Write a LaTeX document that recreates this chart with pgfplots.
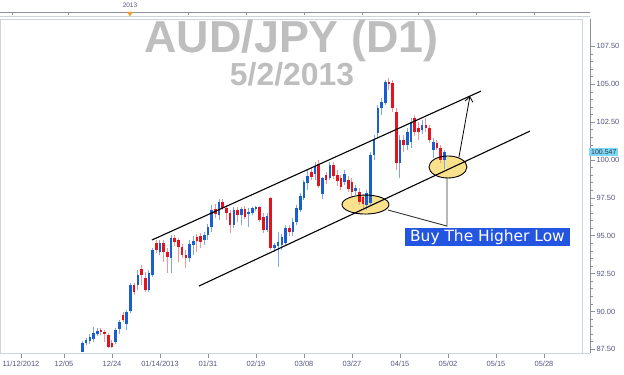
\documentclass[border=0pt]{standalone}
\usepackage{pgfplots}
\pgfplotsset{compat=1.18}
\usepackage{pgfplotstable}
\usepackage{fontspec}
\setmainfont{Liberation Sans}
\newfontfamily\dejavu{DejaVu Sans}
\usetikzlibrary{arrows.meta}

\definecolor{upbody}{RGB}{25,95,210}
\definecolor{upwick}{RGB}{120,170,235}
\definecolor{dnbody}{RGB}{228,20,30}
\definecolor{dnwick}{RGB}{240,150,150}
\definecolor{ticklab}{RGB}{85,85,130}
\definecolor{axisgray}{RGB}{140,145,155}
\definecolor{framegray}{RGB}{205,212,220}
\definecolor{titlegray}{RGB}{190,190,190}
\definecolor{labelblue}{RGB}{35,85,225}
\definecolor{ellfill}{RGB}{250,225,140}
\definecolor{pricebox}{RGB}{125,215,250}
\definecolor{markorange}{RGB}{240,160,40}

\pgfplotstableread{
x o h l c
5 87.33 88.05 87.30 87.92
6 87.92 88.25 87.79 88.12
7 88.05 88.51 87.85 88.32
8 88.18 88.98 87.99 88.58
9 88.51 88.91 88.38 88.71
14 87.99 88.91 87.85 88.78
15 88.84 89.44 88.51 89.31
17 89.18 90.10 88.78 89.97
18 90.03 91.88 89.90 91.75
20 91.75 92.74 91.42 92.41
23 91.42 92.74 91.29 92.54
24 92.41 94.19 92.28 94.06
26 93.93 94.72 93.73 94.52
29 93.53 95.05 92.54 94.85
34 93.53 94.72 93.27 94.46
35 94.39 94.98 93.73 94.65
38 94.72 95.25 94.39 95.05
39 95.05 95.78 94.72 95.58
40 95.58 97.03 95.25 96.70
42 96.37 97.43 96.04 97.23
46 95.71 96.90 95.51 96.70
48 96.37 96.90 95.71 96.77
50 96.44 96.83 95.58 96.57
51 96.50 96.90 96.37 96.83
52 96.77 96.96 96.63 96.90
55 95.38 96.50 95.25 96.30
57 94.19 94.52 93.93 94.39
58 94.32 95.25 92.94 94.59
59 94.39 95.12 94.06 94.92
60 94.52 95.71 94.39 95.51
62 95.25 96.17 94.98 95.91
63 95.91 97.03 95.71 96.83
64 96.70 97.82 96.57 97.62
65 97.49 98.68 97.36 98.55
66 98.48 99.34 98.02 98.94
68 99.08 99.87 98.68 99.60
70 97.76 98.88 97.43 98.81
72 98.81 99.87 98.68 99.67
76 98.55 99.34 98.35 99.08
79 97.95 98.35 97.69 98.15
82 97.03 98.02 96.70 97.82
83 97.16 100.53 97.03 100.33
84 100.33 101.65 100.00 101.32
85 101.78 103.63 101.52 103.43
86 103.43 104.09 102.97 103.83
87 103.76 105.28 103.63 105.15
91 99.80 101.65 98.81 101.32
93 100.99 102.11 100.66 101.85
94 101.19 102.77 100.79 102.51
97 101.98 102.64 101.72 102.31
100 100.66 101.45 100.13 101.19
103 100.00 100.66 99.41 100.547
}\upT

\pgfplotstableread{
x o h l c
10 88.78 88.91 88.45 88.65
11 88.65 88.78 87.99 88.51
12 88.45 88.58 87.59 87.66
13 87.92 88.12 87.59 87.66
16 89.77 89.97 89.31 89.44
19 91.75 91.88 91.09 91.29
21 92.81 93.07 91.75 92.41
22 92.21 92.61 91.29 91.42
25 94.52 94.72 93.86 94.06
27 94.52 94.72 93.27 93.93
28 93.93 94.19 92.54 93.60
30 94.85 95.05 94.32 94.59
31 94.72 94.85 93.27 94.26
32 94.26 94.46 93.53 93.73
33 93.73 94.06 92.87 93.53
36 94.92 95.12 93.93 94.65
37 94.98 95.18 94.19 94.59
41 96.77 97.10 96.17 96.44
43 97.23 97.43 96.70 96.83
44 96.83 97.03 96.04 96.50
45 96.50 96.70 95.18 95.71
47 96.70 96.90 95.91 96.37
49 96.77 96.96 96.11 96.24
53 96.90 96.96 95.91 96.04
54 96.24 96.50 95.18 95.38
56 97.49 97.56 94.06 94.19
61 95.51 95.71 94.98 95.25
67 99.21 99.47 98.68 98.88
69 99.74 100.00 98.15 98.28
71 99.01 99.21 98.42 98.68
73 99.67 99.87 98.75 98.94
74 99.01 99.34 98.28 98.61
75 98.81 99.01 98.02 98.22
77 98.68 98.94 97.89 98.09
78 98.55 98.81 97.62 97.89
80 97.89 98.15 97.03 97.23
81 97.56 97.76 96.83 97.10
88 105.15 105.41 104.62 105.02
89 105.08 105.28 103.17 103.43
90 103.17 103.43 99.34 99.80
92 101.32 101.65 100.53 100.99
95 102.77 102.97 101.58 101.85
96 102.11 102.51 101.32 101.85
98 102.31 102.77 101.85 102.11
99 102.11 102.31 101.12 101.32
101 101.12 101.32 100.66 100.79
102 100.79 100.99 99.80 100.00
}\dnT

\begin{document}
\begin{tikzpicture}
\useasboundingbox (0,0) rectangle (624bp,375bp);
% top date strip
\draw[axisgray, line width=0.7bp] (0,363bp) -- (590bp,363bp);
\draw[framegray, line width=0.7bp] (0,359bp) -- (590bp,359bp);
\foreach \tx in {12,68,130,188,246,304,362,418,476,534}
  \draw[axisgray, line width=0.5bp] (\tx bp,363bp) -- (\tx bp,360bp);
\node[font=\fontsize{6.5}{7}\selectfont, text=ticklab, inner sep=0pt] at (130bp,369.5bp) {2013};
\fill[markorange] (127bp,363bp) -- (133bp,363bp) -- (130bp,358.5bp) -- cycle;
% inner frame
\draw[framegray, line width=0.8bp] (0.4bp,22bp) rectangle (582bp,356bp);
% titles
\node[anchor=base, font=\bfseries\fontsize{45}{48}\selectfont, text=titlegray, inner sep=0pt] at (291.5bp,322bp) {AUD/JPY (D1)};
\node[anchor=base, font=\bfseries\fontsize{32}{35}\selectfont, text=titlegray, inner sep=0pt] at (292bp,289bp) {5/2/2013};

\begin{axis}[
  at={(0bp,22bp)}, anchor=south west,
  scale only axis, width=590bp, height=334bp,
  xmin=-17.33, xmax=142.47, ymin=87.26, ymax=109.31,
  axis x line*=bottom, axis y line*=right,
  x axis line style={draw=framegray, line width=0.8bp},
  y axis line style={draw=axisgray, line width=0.8bp},
  tick align=outside,
  major tick length=5bp, minor tick length=2.5bp,
  every tick/.style={draw=axisgray, line width=0.6bp},
  xtick={-11.65,0,13,26,39,52,65,78,91,104,117,130},
  xticklabels={11/12/2012,12/05,12/24,01/14/2013,01/31,02/19,03/08,03/27,04/15,05/02,05/15,05/28},
  minor x tick num=5,
  ytick={87.5,90,92.5,95,97.5,100,102.5,105,107.5},
  minor y tick num=4,
  xticklabel style={font=\fontsize{7.5}{8}\selectfont, text=ticklab},
  yticklabel style={font=\fontsize{7.5}{8}\selectfont, text=ticklab, xshift=-2bp,
    /pgf/number format/.cd, fixed, fixed zerofill, precision=2, assume math mode=true},
  clip=false,
]
% ellipse fills
\fill[ellfill] (axis cs:104.0,99.54) ellipse [x radius=19bp, y radius=11bp];
\fill[ellfill] (axis cs:81.66,97.06) ellipse [x radius=23.5bp, y radius=9.5bp];

% wicks
\addplot[draw=none, mark=none, forget plot, error bars/.cd, y dir=both, y explicit, error mark=none,
  error bar style={draw=upwick, line width=1bp}]
  table[x=x, y expr={(\thisrow{h}+\thisrow{l})/2}, y error expr={(\thisrow{h}-\thisrow{l})/2}] {\upT};
\addplot[draw=none, mark=none, forget plot, error bars/.cd, y dir=both, y explicit, error mark=none,
  error bar style={draw=dnwick, line width=1bp}]
  table[x=x, y expr={(\thisrow{h}+\thisrow{l})/2}, y error expr={(\thisrow{h}-\thisrow{l})/2}] {\dnT};
% bodies
\addplot[draw=none, mark=none, forget plot, error bars/.cd, y dir=both, y explicit, error mark=none,
  error bar style={draw=upbody, line width=2.6bp}]
  table[x=x, y expr={(\thisrow{o}+\thisrow{c})/2}, y error expr={max(abs(\thisrow{c}-\thisrow{o})/2,0.04)}] {\upT};
\addplot[draw=none, mark=none, forget plot, error bars/.cd, y dir=both, y explicit, error mark=none,
  error bar style={draw=dnbody, line width=2.6bp}]
  table[x=x, y expr={(\thisrow{o}+\thisrow{c})/2}, y error expr={max(abs(\thisrow{c}-\thisrow{o})/2,0.04)}] {\dnT};

% ellipse outlines
\draw[black, line width=0.9bp] (axis cs:104.0,99.54) ellipse [x radius=19bp, y radius=11bp];
\draw[black, line width=0.9bp] (axis cs:81.66,97.06) ellipse [x radius=23.5bp, y radius=9.5bp];
% channel
\draw[black, line width=1.1bp] (axis cs:23.83,94.72) -- (axis cs:112.94,104.55);
\draw[black, line width=1.1bp] (axis cs:36.56,91.68) -- (axis cs:126.21,101.91);
% arrow
\draw[black, line width=0.8bp, -{Straight Barb[length=5bp, width=8bp]}] (axis cs:106.98,100.20) -- (axis cs:109.96,104.22);
% connectors
\draw[black!80, line width=0.9bp] (axis cs:87.75,96.70) -- (axis cs:103.73,95.64) -- (axis cs:103.73,98.81);
\node[fill=labelblue, text=white, font=\dejavu\fontsize{15.5}{16}\selectfont, minimum width=165bp, minimum height=18bp, inner sep=0pt] at (axis cs:114.70,94.92) {Buy The Higher Low};
\end{axis}
% current price box
\node[fill=pricebox, anchor=west, inner xsep=2bp, inner ysep=0pt, minimum height=8bp, font=\fontsize{7}{8}\selectfont, text=black!80] at (589bp,223.3bp) {100.547};
\end{tikzpicture}
\end{document}
